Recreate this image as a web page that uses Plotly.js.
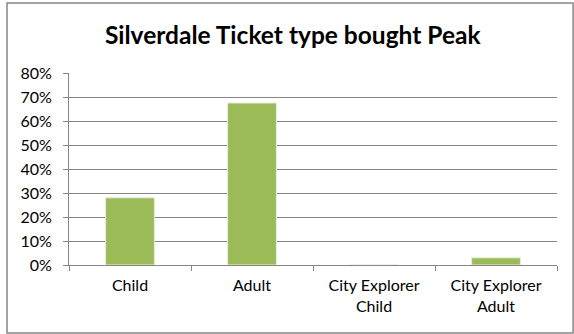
<!DOCTYPE html>
<html><head><meta charset="utf-8">
<script src="https://cdn.plot.ly/plotly-3.0.1.min.js"></script>
<style>html,body{margin:0;padding:0;background:#fff}#c{width:574px;height:334px}</style>
</head><body><div id="c"></div>
<script>
const categories = ["Child", "Adult", "City Explorer<br>Child", "City Explorer<br>Adult"];
const values = [0.28, 0.675, 0, 0.03];
const yTicks = [0, 0.1, 0.2, 0.3, 0.4, 0.5, 0.6, 0.7, 0.8];
const yTickText = ["0%", "10%", "20%", "30%", "40%", "50%", "60%", "70%", "80%"];

Plotly.newPlot("c", [{
  type: "bar", x: categories, y: values,
  marker: {color: "#9BBB59", line: {color: "#e6eed8", width: 1}},
  width: 0.4, hoverinfo: "none"
}], {
  width: 574, height: 334,
  margin: {l: 69, r: 17, t: 73, b: 69},
  paper_bgcolor: "#fff", plot_bgcolor: "#fff",
  font: {family: "Lato, 'Open Sans', sans-serif", color: "#000", size: 16},
  title: {text: "<b>Silverdale Ticket type bought Peak</b>", font: {size: 24.5, family: "Lato, sans-serif"}, x: 0.51, xanchor: "center", y: 0.895, yanchor: "middle"},
  xaxis: {showline: true, linecolor: "#868686", linewidth: 1, ticks: "outside", tickson: "boundaries", ticklen: 5, tickcolor: "#868686", showgrid: false, tickfont: {size: 16}, ticklabelstandoff: 6},
  yaxis: {range: [0, 0.8], tickvals: yTicks, ticktext: yTickText, showline: true, linecolor: "#868686", ticks: "outside", ticklen: 5, tickcolor: "#868686", showgrid: true, gridcolor: "#868686", gridwidth: 1, zeroline: false, tickfont: {size: 16}, ticklabelstandoff: 8},
  shapes: [{type: "rect", xref: "paper", yref: "paper", x0: -0.127, x1: 1.033, y0: -0.354, y1: 1.365, line: {color: "#868686", width: 1.5}}],
  showlegend: false, bargap: 0.6
}, {staticPlot: true});
</script></body></html>
